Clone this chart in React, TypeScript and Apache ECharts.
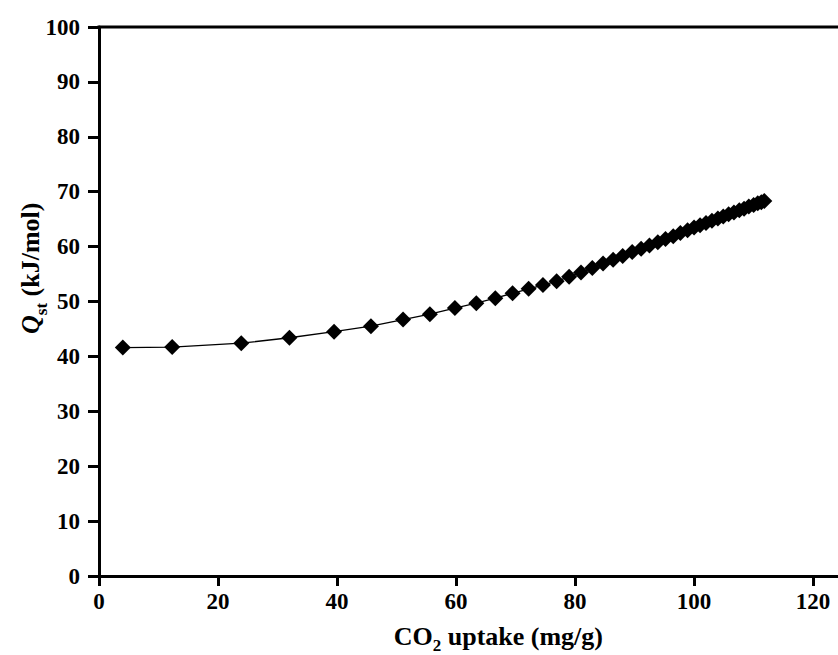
import React, { useEffect, useRef } from "react";
import * as echarts from "echarts";

const uptake = [
  4, 12.3, 23.9, 32, 39.5, 45.7, 51.1, 55.6, 59.8, 63.4, 66.6, 69.5, 72.2, 74.6, 76.9, 79, 81, 82.9,
  84.7, 86.4, 88, 89.6, 91.1, 92.5, 93.9, 95.2, 96.5, 97.7, 98.9, 100, 101, 102, 103, 104, 104.9,
  105.8, 106.7, 107.6, 108.4, 109.2, 110, 110.7, 111.3, 111.8,
];
const qst = [
  41.6, 41.7, 42.4, 43.4, 44.5, 45.5, 46.7, 47.7, 48.8, 49.7, 50.6, 51.5, 52.3, 53.0, 53.7, 54.5, 55.3,
  56.1, 56.9, 57.6, 58.3, 59.0, 59.6, 60.2, 60.8, 61.4, 61.9, 62.5, 63.0, 63.5, 63.9, 64.3, 64.7, 65.1,
  65.5, 65.9, 66.2, 66.6, 66.9, 67.3, 67.6, 67.9, 68.1, 68.3,
];

const FONT = "'Liberation Serif', 'Times New Roman', serif";

export default function App() {
  const ref = useRef<HTMLDivElement>(null);
  useEffect(() => {
    if (!ref.current) return;
    const chart = echarts.init(ref.current, null, { renderer: "svg" });
    const axisLineStyle = { color: "#000", width: 3 };
    const labelStyle = { fontSize: 23, fontWeight: "bold", fontFamily: FONT, color: "#000" };
    chart.setOption({
      animation: false,
      backgroundColor: "#fff",
      grid: {
        left: 99,
        right: -12,
        top: 27,
        bottom: 79,
        containLabel: false,
        outerBoundsMode: "none",
      },
      xAxis: {
        type: "value",
        min: 0,
        max: 126.2,
        interval: 20,
        axisLine: { show: true, lineStyle: axisLineStyle },
        axisTick: { show: true, length: 10, lineStyle: { color: "#000", width: 3 } },
        axisLabel: {
          ...labelStyle,
          margin: 14,
          showMaxLabel: false,
          formatter: (v: number) => (v % 20 === 0 ? String(v) : ""),
        },
        splitLine: { show: false },
      },
      yAxis: {
        type: "value",
        min: 0,
        max: 100,
        interval: 10,
        axisLine: { show: true, lineStyle: axisLineStyle },
        axisTick: { show: true, length: 11, lineStyle: { color: "#000", width: 3 } },
        axisLabel: { ...labelStyle, margin: 19 },
        splitLine: { show: false },
      },
      series: [
        {
          type: "line",
          data: uptake.map((x, i) => [x, qst[i]]),
          symbol: "diamond",
          symbolSize: 16,
          showSymbol: true,
          lineStyle: { color: "#000", width: 1.3 },
          itemStyle: { color: "#000" },
        },
      ],
      graphic: [
        {
          type: "line",
          shape: { x1: 97.5, y1: 27, x2: 838, y2: 27 },
          style: { stroke: "#000", lineWidth: 3 },
        },
        {
          type: "text",
          x: 603,
          y: 636,
          style: {
            text: "{m|CO}{s|2}{m| uptake (mg/g)}",
            align: "right",
            verticalAlign: "middle",
            rich: {
              m: { fontSize: 26, fontWeight: "bold", fontFamily: FONT, color: "#000", lineHeight: 28, verticalAlign: "middle" },
              s: { fontSize: 17, fontWeight: "bold", fontFamily: FONT, color: "#000", lineHeight: 36, verticalAlign: "bottom" },
            },
          },
        },
        {
          type: "text",
          x: 30,
          y: 334,
          rotation: Math.PI / 2,
          style: {
            text: "{q|Q}{s|st}{m| (kJ/mol)}",
            align: "left",
            verticalAlign: "middle",
            rich: {
              q: { fontSize: 26, fontWeight: "bold", fontStyle: "italic", fontFamily: FONT, color: "#000", lineHeight: 28, verticalAlign: "middle" },
              s: { fontSize: 17, fontWeight: "bold", fontFamily: FONT, color: "#000", lineHeight: 40, verticalAlign: "bottom" },
              m: { fontSize: 26, fontWeight: "bold", fontFamily: FONT, color: "#000", lineHeight: 28, verticalAlign: "middle" },
            },
          },
        },
      ],
    });
    return () => chart.dispose();
  }, []);
  return (
    <div
      ref={ref}
      style={{ position: "fixed", left: 0, top: 0, width: 838, height: 655, background: "#fff" }}
    />
  );
}
